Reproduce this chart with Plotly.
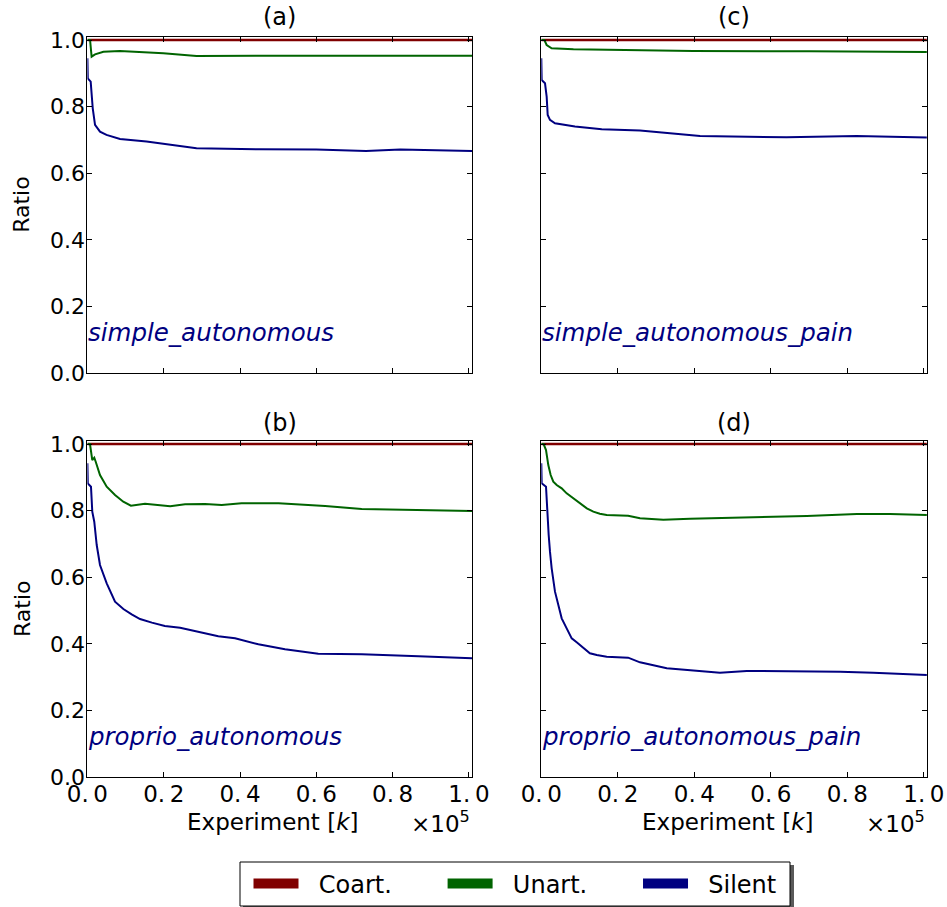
import plotly.graph_objects as go

# ---------------- data ----------------
X_END = 100800

# (a) simple_autonomous
a_unart_x = [0, 700, 1100, 2000, 4200, 8500, 19900, 28600, 45000, 70000, 100800]
a_unart_y = [1.0, 1.0, 0.950, 0.957, 0.965, 0.967, 0.960, 0.952, 0.953, 0.954, 0.953]
a_silent_x = [0, 100, 860, 1400, 2000, 3300, 5000, 8550, 15500, 20800, 28600, 45000, 60000, 73000, 82000, 100800]
a_silent_y = [0.945, 0.885, 0.875, 0.795, 0.745, 0.725, 0.715, 0.703, 0.695, 0.687, 0.675, 0.672, 0.671, 0.667, 0.671, 0.667]

# (c) simple_autonomous_pain
c_unart_x = [0, 800, 1400, 2700, 8400, 20000, 39700, 70000, 100800]
c_unart_y = [1.0, 1.0, 0.985, 0.975, 0.972, 0.970, 0.967, 0.966, 0.964]
c_silent_x = [0, 100, 970, 1400, 1670, 2270, 3580, 6200, 8800, 15800, 25800, 41500, 64100, 82400, 100800]
c_silent_y = [0.945, 0.880, 0.870, 0.830, 0.775, 0.760, 0.750, 0.745, 0.740, 0.732, 0.728, 0.712, 0.708, 0.712, 0.707]

# (b) proprio_autonomous
b_unart_x = [0, 680, 1280, 1800, 2180, 3300, 5060, 7240, 9400, 11400, 15100, 21700, 25600, 30800,
             35200, 40400, 50100, 62300, 71900, 86800, 100800]
b_unart_y = [1.0, 1.0, 0.952, 0.959, 0.947, 0.907, 0.872, 0.847, 0.827, 0.815, 0.821, 0.813, 0.819, 0.820,
             0.817, 0.822, 0.822, 0.814, 0.805, 0.803, 0.799]
b_silent_x = [0, 100, 940, 1280, 1800, 2440, 3300, 5060, 7240, 9430, 11600, 13800, 16900, 20300, 24300,
              28200, 34300, 38700, 44800, 51800, 60500, 71900, 78000, 86800, 100800]
b_silent_y = [0.942, 0.882, 0.872, 0.797, 0.767, 0.697, 0.637, 0.582, 0.527, 0.505, 0.489, 0.475, 0.464,
              0.454, 0.449, 0.439, 0.423, 0.417, 0.399, 0.384, 0.371, 0.369, 0.367, 0.363, 0.357]

# (d) proprio_autonomous_pain
d_unart_x = [0, 600, 1230, 1830, 2450, 3140, 4020, 5330, 6630, 8370, 10120, 11900, 13600, 15300, 17100,
             19700, 22700, 25800, 31900, 38900, 46700, 51900, 69400, 82500, 91200, 100800]
d_unart_y = [1.0, 1.0, 0.982, 0.937, 0.907, 0.887, 0.877, 0.867, 0.852, 0.837, 0.822, 0.807, 0.797, 0.791,
             0.787, 0.787, 0.785, 0.777, 0.773, 0.776, 0.778, 0.781, 0.784, 0.790, 0.790, 0.787]
d_silent_x = [0, 100, 1230, 1580, 1930, 2270, 2710, 3580, 4450, 5330, 6630, 7950, 9250, 11000, 12700,
              14500, 17100, 22700, 25800, 32800, 46700, 53700, 78100, 86800, 100800]
d_silent_y = [0.942, 0.882, 0.872, 0.777, 0.727, 0.677, 0.627, 0.557, 0.517, 0.477, 0.447, 0.417, 0.405,
              0.387, 0.372, 0.367, 0.362, 0.359, 0.345, 0.327, 0.314, 0.319, 0.317, 0.314, 0.307]

coart_x = [0, X_END]
coart_y = [1.0, 1.0]

panel_titles = ["(a)", "(c)", "(b)", "(d)"]
panel_names = ["simple_autonomous", "simple_autonomous_pain", "proprio_autonomous", "proprio_autonomous_pain"]
series_names = ["Coart.", "Unart.", "Silent"]
series_colors = ["#800000", "#006400", "#000080"]

x_tickvals = [0, 20000, 40000, 60000, 80000, 100000]
x_ticktext = ["0.\u20090", "0.\u20092", "0.\u20094", "0.\u20096", "0.\u20098", "1.\u20090"]
y_tickvals = [0.0, 0.2, 0.4, 0.6, 0.8, 1.0]
y_ticktext = ["0.0", "0.2", "0.4", "0.6", "0.8", "1.0"]

panels = [
    (a_unart_x, a_unart_y, a_silent_x, a_silent_y),
    (c_unart_x, c_unart_y, c_silent_x, c_silent_y),
    (b_unart_x, b_unart_y, b_silent_x, b_silent_y),
    (d_unart_x, d_unart_y, d_silent_x, d_silent_y),
]

# ---------------- layout geometry ----------------
W, H = 947, 907
xdoms = [[87.4 / W, 472.0 / W], [541.3 / W, 926.9 / W]]
ydoms = [[1 - 373.0 / H, 1 - 36.7 / H], [1 - 777.3 / H, 1 - 440.7 / H]]

SANS = "DejaVu Sans, sans-serif"

fig = go.Figure()
layout = dict(
    width=W, height=H,
    margin=dict(l=0, r=0, t=0, b=0, autoexpand=False),
    plot_bgcolor="white", paper_bgcolor="white",
    showlegend=True,
)

annotations = []
for i, (ux, uy, sx, sy) in enumerate(panels):
    row, col = divmod(i, 2)
    ax = "" if i == 0 else str(i + 1)
    xref, yref = "x" + ax, "y" + ax
    fig.add_trace(go.Scatter(x=coart_x, y=coart_y, mode="lines", name=series_names[0],
                             line=dict(color=series_colors[0], width=2.5), showlegend=False,
                             xaxis=xref, yaxis=yref))
    fig.add_trace(go.Scatter(x=ux, y=uy, mode="lines", name=series_names[1],
                             line=dict(color=series_colors[1], width=2), showlegend=False,
                             xaxis=xref, yaxis=yref))
    fig.add_trace(go.Scatter(x=sx, y=sy, mode="lines", name=series_names[2],
                             line=dict(color=series_colors[2], width=2), showlegend=False,
                             xaxis=xref, yaxis=yref))

    bottom = row == 1
    left = col == 0
    layout["xaxis" + ax] = dict(
        domain=xdoms[col], anchor=yref, range=[0, X_END], automargin=False,
        tickvals=x_tickvals, ticktext=x_ticktext, showticklabels=bottom,
        ticks="inside", ticklen=5, tickwidth=1, tickcolor="black",
        showline=True, linecolor="black", linewidth=1, mirror="ticks",
        showgrid=False, zeroline=False, ticklabelstandoff=-4,
        tickfont=dict(family=SANS, size=23, color="black"),
    )
    layout["yaxis" + ax] = dict(
        domain=ydoms[row], anchor=xref, range=[0, 1.01], automargin=False,
        tickvals=y_tickvals, ticktext=y_ticktext, showticklabels=left,
        ticks="inside", ticklen=5, tickwidth=1, tickcolor="black",
        showline=True, linecolor="black", linewidth=1, mirror="ticks",
        showgrid=False, zeroline=False, ticklabelstandoff=-3,
        tickfont=dict(family=SANS, size=22, color="black"),
    )
    # panel title
    annotations.append(dict(x=sum(xdoms[col]) / 2, y=1 - (17 if row == 0 else 423) / H,
                            xref="paper", yref="paper", text=panel_titles[i], showarrow=False,
                            xanchor="center", yanchor="middle",
                            font=dict(family=SANS, size=24, color="black")))
    # panel name
    annotations.append(dict(x=0, y=0.123, xref=xref, yref=yref, text="<i>" + panel_names[i] + "</i>",
                            showarrow=False, xanchor="left", yanchor="middle", xshift=-1,
                            font=dict(family=SANS, size=24.5, color="#000080")))
    if left:
        annotations.append(dict(x=22 / W, y=sum(ydoms[row]) / 2, xref="paper", yref="paper",
                                text="Ratio", textangle=-90, showarrow=False,
                                xanchor="center", yanchor="middle",
                                font=dict(family=SANS, size=22, color="black")))
    if bottom:
        cx = 273 if col == 0 else 728
        annotations.append(dict(x=cx / W, y=1 - 822 / H, xref="paper", yref="paper",
                                text="Experiment [<i>k</i>]", showarrow=False,
                                xanchor="center", yanchor="middle",
                                font=dict(family=SANS, size=23, color="black")))
        annotations.append(dict(x=xdoms[col][1], y=1 - 822 / H, xref="paper", yref="paper",
                                text="\u00d710<sup>5</sup>", showarrow=False,
                                xanchor="right", yanchor="middle",
                                font=dict(family=SANS, size=23, color="black")))

# legend-only entries with thick swatches
NB = "\u00a0"
legend_labels = [NB * 2 + series_names[0] + NB * 6, NB * 2 + series_names[1] + NB * 6, NB * 2 + series_names[2]]
for name, color in zip(legend_labels, series_colors):
    fig.add_trace(go.Scatter(x=[None], y=[None], mode="lines", name=name,
                             line=dict(color=color, width=10), showlegend=True,
                             xaxis="x", yaxis="y"))

# legend frame with shadow (drawn as shapes, legend itself transparent)
shapes = [
    dict(type="rect", xref="paper", yref="paper",
         x0=243 / W, x1=794 / W, y0=1 - 910 / H, y1=1 - 865 / H,
         fillcolor="#5a5a5a", line=dict(width=0), layer="above"),
    dict(type="rect", xref="paper", yref="paper",
         x0=240 / W, x1=790 / W, y0=1 - 906 / H, y1=1 - 862 / H,
         fillcolor="white", line=dict(color="black", width=1), layer="above"),
]

layout["annotations"] = annotations
layout["shapes"] = shapes
layout["legend"] = dict(
    orientation="h", x=515 / W, xanchor="center", y=1 - 884 / H, yanchor="middle",
    borderwidth=0, bgcolor="rgba(0,0,0,0)",
    font=dict(family=SANS, size=24, color="black"),
    itemwidth=45,
)
fig.update_layout(**layout)

fig.write_html("out.html", post_script="document.body.style.margin='0';",
               config={"displayModeBar": False})
